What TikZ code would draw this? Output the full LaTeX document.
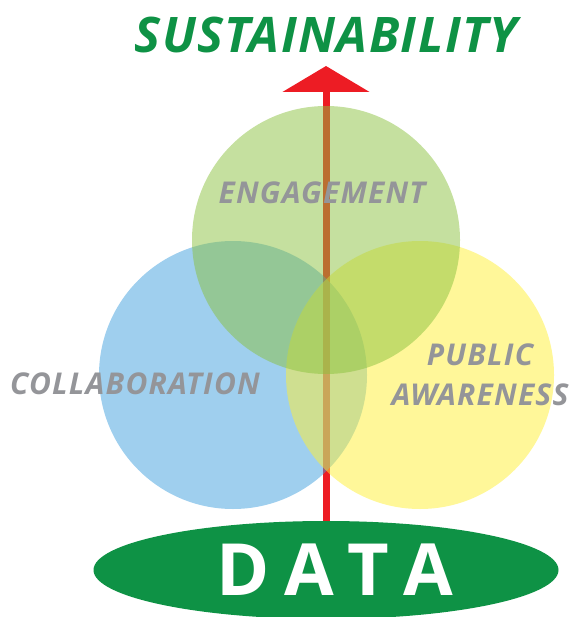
\documentclass[tikz,border=0pt]{standalone}
\usepackage{fontspec}
\setmainfont{Open Sans}
\usetikzlibrary{arrows.meta,shapes.geometric}

\definecolor{leafgreen}{RGB}{14,146,69}
\definecolor{signred}{RGB}{237,28,36}
\definecolor{tagray}{RGB}{148,149,153}
\definecolor{ringgreen}{RGB}{139,193,63}
\definecolor{ringblue}{RGB}{63,159,221}
\definecolor{ringyellow}{RGB}{255,239,51}

\begin{document}
\begin{tikzpicture}[x=1pt, y=-1pt,
  ring/.style={circle, minimum size=268pt, inner sep=0pt, fill opacity=0.5},
  tagtext/.style={text=tagray, inner sep=0pt, align=center,
    font=\fontsize{30}{40}\selectfont\bfseries\itshape\addfontfeature{LetterSpace=4}}]

  % Define parameters
  \def\cx{326}  % x of the stem
  \def\tipy{66} % y of the arrow tip

  % Fix the frame
  \useasboundingbox (0,0) rectangle (574,617);

  % Draw the base
  \node[ellipse, fill=leafgreen, minimum width=465pt, minimum height=98pt, inner sep=0pt]
    (data) at (\cx,570) {};
  \node[text=white, inner sep=0pt, font=\fontsize{72}{72}\selectfont\bfseries]
    (dataword) at ([xshift=9pt]data.center) {D\hspace{14pt}A\hspace{14pt}T\hspace{14pt}A};

  % Draw the stem and arrow head
  \coordinate (tip) at (\cx,\tipy);
  \draw[signred, line width=7pt, -{Triangle[width=86pt, length=26pt]}] (data.north) -- (tip);

  % Draw the three circles
  \node[ring, fill=ringblue] (collab) at (233,375) {};
  \node[ring, fill=ringyellow] (public) at (420,375) {};
  \node[ring, fill=ringgreen] (engage) at (\cx,240) {};

  % Add circle labels
  \node[tagtext] (engtext) at (322,193) {ENGAGEMENT};
  \node[tagtext] (coltext) at (135,384) {COLLABORATION};
  \node[tagtext] (pubtext) at (480,375) {PUBLIC\\AWARENESS};

  % Add the goal on top
  \node[text=leafgreen, inner sep=0pt,
    font=\fontsize{49}{49}\selectfont\bfseries\itshape\addfontfeature{LetterSpace=3}]
    (goal) at (\cx,35) {SUSTAINABILITY};

\end{tikzpicture}
\end{document}
